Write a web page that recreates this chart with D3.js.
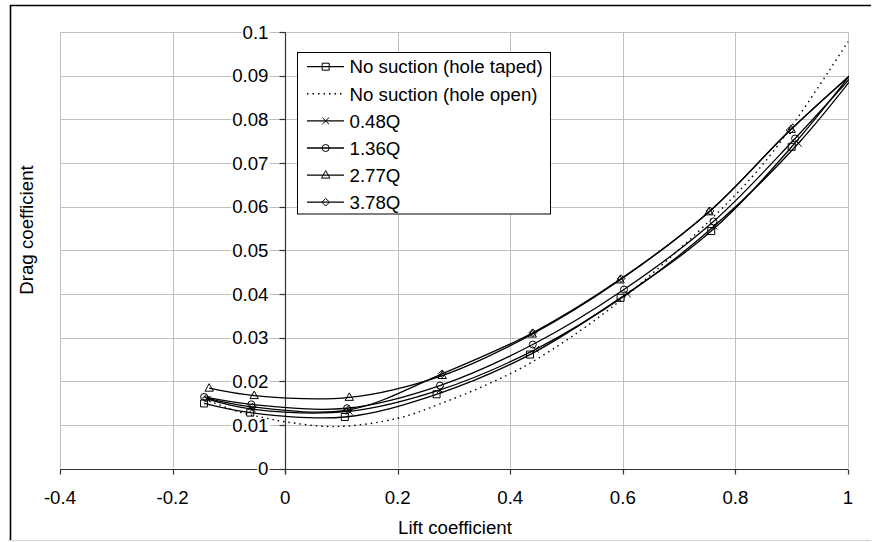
<!DOCTYPE html>
<html><head><meta charset="utf-8">
<script src="https://cdn.jsdelivr.net/npm/d3@7/dist/d3.min.js"></script>
<style>
body{margin:0;background:#fff;}
text{font-family:"Liberation Sans",Arial,sans-serif;fill:#000;}
</style></head><body>
<svg id="c" width="875" height="542"></svg>
<script>
// ---- data ----
const xTicks = [-0.4, -0.2, 0, 0.2, 0.4, 0.6, 0.8, 1];
const xTickLabels = ["-0.4", "-0.2", "0", "0.2", "0.4", "0.6", "0.8", "1"];
const yTicks = [0, 0.01, 0.02, 0.03, 0.04, 0.05, 0.06, 0.07, 0.08, 0.09, 0.1];
const yTickLabels = ["0", "0.01", "0.02", "0.03", "0.04", "0.05", "0.06", "0.07", "0.08", "0.09", "0.1"];
const seriesNames = ["No suction (hole taped)", "No suction (hole open)", "0.48Q", "1.36Q", "2.77Q", "3.78Q"];

const tapedCl = [-0.144, -0.062, 0.106, 0.269, 0.435, 0.596, 0.757, 0.900, 1.06];
const tapedCd = [0.0149, 0.0128, 0.0118, 0.0170, 0.0261, 0.0391, 0.0544, 0.0737, 0.0995];
const openCl = [-0.135, -0.083, -0.036, 0.0, 0.09, 0.2, 0.275, 0.358, 0.44, 0.58, 0.767, 0.867, 1.0];
const openCd = [0.0155, 0.0130, 0.0116, 0.0107, 0.0096, 0.0115, 0.0148, 0.0192, 0.0245, 0.0369, 0.0584, 0.0726, 0.0978];
const q048Cl = [-0.138, -0.058, 0.114, 0.275, 0.445, 0.608, 0.762, 0.912, 1.06];
const q048Cd = [0.0159, 0.0136, 0.0131, 0.0180, 0.0273, 0.0400, 0.0555, 0.0745, 0.0982];
const q136Cl = [-0.144, -0.060, 0.110, 0.275, 0.440, 0.602, 0.761, 0.906, 1.06];
const q136Cd = [0.0164, 0.0147, 0.0138, 0.0190, 0.0284, 0.0410, 0.0566, 0.0756, 0.0975];
const q277Cl = [-0.135, -0.055, 0.114, 0.279, 0.439, 0.595, 0.753, 0.899, 1.06];
const q277Cd = [0.0184, 0.0167, 0.0163, 0.0213, 0.0308, 0.0432, 0.0588, 0.0777, 0.0965];
const q378Cl = [-0.140, -0.058, 0.112, 0.279, 0.440, 0.597, 0.755, 0.897, 1.06];
const q378Cd = [0.0161, 0.0141, 0.0134, 0.0217, 0.0311, 0.0435, 0.0590, 0.0775, 0.0965];

const series = [
  {name: seriesNames[0], cl: tapedCl, cd: tapedCd, marker: "square", dotted: false},
  {name: seriesNames[1], cl: openCl, cd: openCd, marker: null, dotted: true},
  {name: seriesNames[2], cl: q048Cl, cd: q048Cd, marker: "cross", dotted: false},
  {name: seriesNames[3], cl: q136Cl, cd: q136Cd, marker: "circle", dotted: false},
  {name: seriesNames[4], cl: q277Cl, cd: q277Cd, marker: "triangle", dotted: false},
  {name: seriesNames[5], cl: q378Cl, cd: q378Cd, marker: "diamond", dotted: false}
];

// ---- layout ----
const FS = 18.7;
const svg = d3.select("#c");
const L = 60, R = 848, T = 32, B = 468.5;
const x = d3.scaleLinear().domain([-0.4, 1]).range([L, R]);
const y = d3.scaleLinear().domain([0, 0.1]).range([B, T]);

// outer frame
svg.append("line").attr("x1",10).attr("x2",871).attr("y1",5.5).attr("y2",5.5).attr("stroke","#000").attr("stroke-width",1.6);
svg.append("line").attr("x1",10.5).attr("x2",10.5).attr("y1",5).attr("y2",541).attr("stroke","#000").attr("stroke-width",1.6);
svg.append("line").attr("x1",10).attr("x2",871).attr("y1",540.5).attr("y2",540.5).attr("stroke","#d0d0d0").attr("stroke-width",1);

// gridlines
const grid = svg.append("g").attr("stroke","#c0c0c0").attr("stroke-width",1);
yTicks.filter(v => v > 0).forEach(v => {
  grid.append("line").attr("x1",L).attr("x2",R).attr("y1",Math.round(y(v))+0.5).attr("y2",Math.round(y(v))+0.5);
});
xTicks.filter(v => v !== 0).forEach(v => {
  grid.append("line").attr("x1",Math.round(x(v))+0.5).attr("x2",Math.round(x(v))+0.5).attr("y1",T).attr("y2",B);
});

// axes
const ax = svg.append("g").attr("stroke","#333").attr("stroke-width",1.2);
const x0 = Math.round(x(0))+0.5, y0 = Math.round(y(0))+0.5;
ax.append("line").attr("x1",L).attr("x2",R).attr("y1",y0).attr("y2",y0);
ax.append("line").attr("x1",x0).attr("x2",x0).attr("y1",Math.round(y(0.1))+0.5).attr("y2",y0+5);
xTicks.forEach(v => {
  const px = Math.round(x(v))+0.5;
  ax.append("line").attr("x1",px).attr("x2",px).attr("y1",y0).attr("y2",y0+5);
});
yTicks.forEach(v => {
  const py = Math.round(y(v))+0.5;
  ax.append("line").attr("x1",x0-6).attr("x2",x0).attr("y1",py).attr("y2",py);
});

// y tick labels with white background
const yl = svg.append("g");
yTicks.forEach((v,i) => {
  const t = yl.append("text").attr("x", x0-17).attr("y", y(v)).attr("dy","0.36em")
    .attr("text-anchor","end").attr("font-size",FS).text(yTickLabels[i]);
  const bb = t.node().getBBox();
  yl.insert("rect","text").attr("x",bb.x-1).attr("y",bb.y+3).attr("width",bb.width+2).attr("height",bb.height-6).attr("fill","#fff");
});
// x tick labels
xTicks.forEach((v,i) => {
  svg.append("text").attr("x", x(v)).attr("y", 497).attr("dy","0.36em")
    .attr("text-anchor","middle").attr("font-size",FS).text(xTickLabels[i]);
});

// axis titles
svg.append("text").attr("x",455).attr("y",527).attr("dy","0.36em").attr("text-anchor","middle").attr("font-size",FS).text("Lift coefficient");
svg.append("text").attr("transform","translate(26,230) rotate(-90)").attr("dy","0.36em").attr("text-anchor","middle").attr("font-size",FS).text("Drag coefficient");

// clip
svg.append("defs").append("clipPath").attr("id","plot").append("rect").attr("x",L).attr("y",T-2).attr("width",R-L+1).attr("height",B-T+4);

// marker drawing
function drawMarker(g, type, cx, cy) {
  const s = g.append("path").attr("fill","none").attr("stroke","#000").attr("stroke-width",1);
  let d = "";
  if (type === "square") d = `M${cx-3.5},${cy-3.5}h7v7h-7z`;
  else if (type === "circle") d = `M${cx+3.5},${cy}A3.5,3.5 0 1,1 ${cx-3.5},${cy}A3.5,3.5 0 1,1 ${cx+3.5},${cy}`;
  else if (type === "triangle") d = `M${cx},${cy-4.5}L${cx+4.2},${cy+3}L${cx-4.2},${cy+3}Z`;
  else if (type === "diamond") d = `M${cx},${cy-3.8}L${cx+3.8},${cy}L${cx},${cy+3.8}L${cx-3.8},${cy}Z`;
  else if (type === "cross") d = `M${cx-3.3},${cy-3.3}L${cx+3.3},${cy+3.3}M${cx+3.3},${cy-3.3}L${cx-3.3},${cy+3.3}`;
  s.attr("d", d);
}

const line = d3.line().x(d => x(d[0])).y(d => y(d[1])).curve(d3.curveCatmullRom.alpha(0.5));
const plot = svg.append("g").attr("clip-path","url(#plot)");
series.forEach(s => {
  const pts = s.cl.map((c,i) => [c, s.cd[i]]);
  plot.append("path").attr("d", line(pts)).attr("fill","none").attr("stroke","#000")
    .attr("stroke-width", s.dotted ? 1.4 : 1.3)
    .attr("stroke-dasharray", s.dotted ? "1.5,4" : null);
});
series.forEach(s => {
  if (!s.marker) return;
  const g = svg.append("g");
  s.cl.forEach((c,i) => {
    if (c > 1 || c < -0.4) return;
    drawMarker(g, s.marker, x(c), y(s.cd[i]));
  });
});

// legend
const lg = svg.append("g");
lg.append("rect").attr("x",297.5).attr("y",52.5).attr("width",253).attr("height",161.5).attr("fill","#fff").attr("stroke","#000").attr("stroke-width",1);
series.forEach((s,i) => {
  const cy = 66.7 + i*27.1;
  lg.append("line").attr("x1",307).attr("x2",344).attr("y1",cy).attr("y2",cy).attr("stroke","#000")
    .attr("stroke-width", s.dotted ? 1.4 : 1.3).attr("stroke-dasharray", s.dotted ? "1.5,4" : null);
  if (s.marker) drawMarker(lg, s.marker, 325.7, cy);
  lg.append("text").attr("x",349.5).attr("y",cy).attr("dy","0.36em").attr("font-size",FS).text(s.name);
});
</script>
</body></html>
